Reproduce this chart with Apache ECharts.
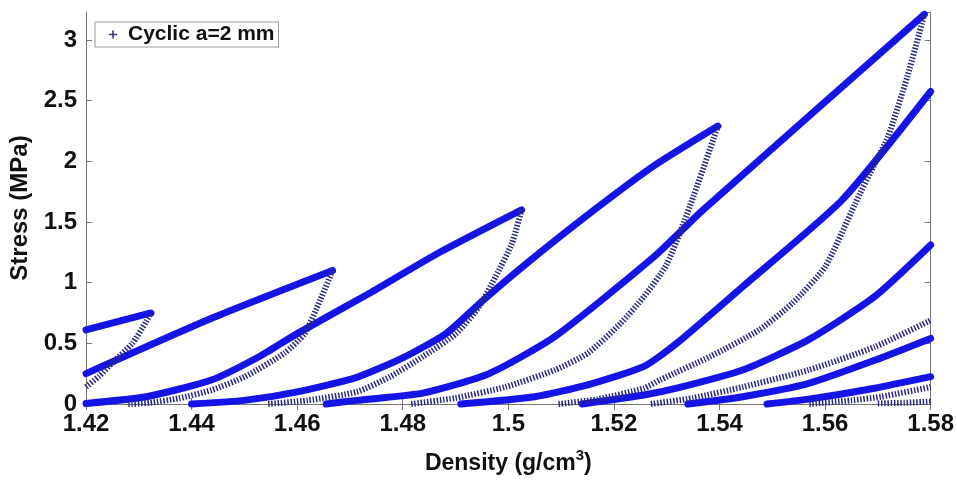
<!DOCTYPE html>
<html>
<head>
<meta charset="utf-8">
<script src="https://cdn.jsdelivr.net/npm/echarts@6/dist/echarts.min.js"></script>
<style>
  html, body { margin: 0; padding: 0; background: #fff; }
  #box { width: 957px; height: 481px; }
</style>
</head>
<body>
<div id="box"></div>
<script>
// loading branches (sparse "+" markers), [density, stress]
const load1 = [[1.42, 0.14], [1.4225, 0.23], [1.425, 0.34], [1.4288, 0.5], [1.4314, 0.68], [1.4323, 0.75]];
const load2 = [[1.428, 0], [1.432, 0.01], [1.4376, 0.047], [1.4438, 0.115], [1.4501, 0.225], [1.4576, 0.42], [1.4614, 0.58], [1.4644, 0.86], [1.4667, 1.1]];
const load3 = [[1.4545, 0], [1.462, 0.03], [1.4713, 0.1], [1.4776, 0.225], [1.4838, 0.39], [1.4901, 0.58], [1.4944, 0.8], [1.4976, 1.05], [1.5007, 1.325], [1.5025, 1.6]];
const load4 = [[1.4816, 0], [1.49, 0.05], [1.4994, 0.14], [1.5088, 0.28], [1.5151, 0.42], [1.5213, 0.665], [1.5257, 0.885], [1.53, 1.15], [1.5344, 1.63], [1.5397, 2.29]];
const load5 = [[1.5095, 0], [1.517, 0.04], [1.5257, 0.13], [1.5288, 0.2], [1.5382, 0.39], [1.5475, 0.61], [1.5538, 0.83], [1.56, 1.13], [1.5657, 1.65], [1.5694, 1.98], [1.5719, 2.2], [1.5756, 2.7], [1.5788, 3.21]];
const load6 = [[1.527, 0], [1.535, 0.05], [1.5444, 0.14], [1.5569, 0.28], [1.5694, 0.47], [1.58, 0.69]];
const load7 = [[1.557, 0], [1.565, 0.03], [1.5706, 0.06], [1.58, 0.14]];
const load8 = [[1.57, 0.005], [1.575, 0.01], [1.58, 0.02]];

// unloading / reloading branches (dense markers -> thick band)
const unload1 = [[1.42, 0.61], [1.4323, 0.75]];
const unload2 = [[1.42, 0.25], [1.444, 0.71], [1.4667, 1.1]];
const unload3 = [[1.42, 0.005], [1.4314, 0.06], [1.4439, 0.2], [1.4532, 0.4], [1.46, 0.58], [1.4732, 0.9], [1.487, 1.25], [1.5025, 1.6]];
const unload4 = [[1.44, 0], [1.45, 0.03], [1.46, 0.1], [1.4713, 0.22], [1.48, 0.38], [1.4882, 0.58], [1.4951, 0.85], [1.5038, 1.17], [1.5163, 1.6], [1.5275, 1.96], [1.5397, 2.29]];
const unload5 = [[1.4655, 0], [1.4713, 0.03], [1.4838, 0.09], [1.4963, 0.25], [1.5088, 0.555], [1.5275, 1.21], [1.5369, 1.6], [1.5788, 3.21]];
const unload6 = [[1.491, 0], [1.505, 0.06], [1.5152, 0.16], [1.5257, 0.31], [1.5319, 0.5], [1.5444, 0.967], [1.5632, 1.68], [1.58, 2.575]];
const unload7 = [[1.514, 0], [1.5257, 0.074], [1.5319, 0.13], [1.5444, 0.28], [1.5569, 0.53], [1.5694, 0.885], [1.58, 1.31]];
const unload8 = [[1.534, 0], [1.5444, 0.06], [1.5569, 0.17], [1.5694, 0.36], [1.58, 0.54]];
const unload9 = [[1.549, 0], [1.5569, 0.04], [1.5694, 0.13], [1.58, 0.225]];

const seriesName = 'Cyclic a=2 mm';
const xMin = 1.42, xMax = 1.58, xStep = 0.02;
const yMin = 0, yMax = 3.23, yStep = 0.5;

const loadCurves = [load1, load2, load3, load4, load5, load6, load7, load8];
const unloadCurves = [unload1, unload2, unload3, unload4, unload5, unload6, unload7, unload8, unload9];

const font = "'Liberation Sans', Arial, sans-serif";
const plusIcon = 'path://M4,0H6V4H10V6H6V10H4V6H0V4H4Z';

function init() {
  let myChart = echarts.init(document.getElementById('box'));
  let series = [];

  unloadCurves.forEach(c => {
    series.push({
      name: seriesName,
      type: 'line',
      data: c,
      symbol: 'none',
      smooth: 0.2,
      clip: false,
      z: 2,
      lineStyle: { width: 7, color: '#1414e6', cap: 'round', join: 'round' }
    });
  });
  loadCurves.forEach(c => {
    series.push({
      name: seriesName,
      type: 'line',
      data: c,
      symbol: 'none',
      smooth: 0.2,
      clip: false,
      z: 3,
      lineStyle: { width: 6, color: '#2a2a85', type: [1.5, 1.7] }
    });
  });

  let tickLabel = v => String(parseFloat(v.toFixed(2)));

  let option = {
    animation: false,
    backgroundColor: '#fff',
    grid: { left: 86, right: 17, top: 12, bottom: 77 },
    legend: {
      left: 95,
      top: 22,
      padding: [2, 4, 2, 14],
      borderColor: '#999',
      borderWidth: 1,
      itemWidth: 8,
      itemHeight: 8,
      data: [{ name: seriesName, icon: plusIcon, itemStyle: { color: '#33338a' } }],
      textStyle: { fontFamily: font, fontWeight: 'bold', fontSize: 21, color: '#111', padding: [0, 0, 0, 6] }
    },
    xAxis: [
      {
        type: 'value',
        min: xMin, max: xMax, interval: xStep,
        name: '{a|Density (g/cm}{s|3}{a|)}',
        nameLocation: 'middle',
        nameGap: 44,
        nameTextStyle: {
          rich: {
            a: { fontFamily: font, fontWeight: 'bold', fontSize: 23, color: '#111', verticalAlign: 'bottom' },
            s: { fontFamily: font, fontWeight: 'bold', fontSize: 15, color: '#111', verticalAlign: 'top', padding: [0, 0, 12, 0] }
          }
        },
        axisLine: { lineStyle: { color: '#777' } },
        axisTick: { inside: true, length: 6, lineStyle: { color: '#777' } },
        axisLabel: { formatter: tickLabel, margin: 8, fontFamily: font, fontWeight: 'bold', fontSize: 24, color: '#111' },
        splitLine: { show: false }
      },
      {
        type: 'value', position: 'top',
        min: xMin, max: xMax, interval: xStep,
        axisLine: { lineStyle: { color: '#777' } },
        axisTick: { inside: true, length: 6, lineStyle: { color: '#777' } },
        axisLabel: { show: false },
        splitLine: { show: false }
      }
    ],
    yAxis: [
      {
        type: 'value',
        min: yMin, max: yMax, interval: yStep,
        name: 'Stress (MPa)',
        nameLocation: 'middle',
        nameGap: 46,
        nameTextStyle: { fontFamily: font, fontWeight: 'bold', fontSize: 24, color: '#111' },
        axisLine: { show: true, lineStyle: { color: '#777' } },
        axisTick: { show: true, inside: true, length: 6, lineStyle: { color: '#777' } },
        axisLabel: { formatter: tickLabel, showMaxLabel: false, margin: 9, fontFamily: font, fontWeight: 'bold', fontSize: 24, color: '#111' },
        splitLine: { show: false }
      },
      {
        type: 'value', position: 'right',
        min: yMin, max: yMax, interval: yStep,
        axisLine: { show: true, lineStyle: { color: '#777' } },
        axisTick: { show: true, inside: true, length: 6, lineStyle: { color: '#777' } },
        axisLabel: { show: false },
        splitLine: { show: false }
      }
    ],
    series: series
  };
  myChart.setOption(option);
}

init();
</script>
</body>
</html>
